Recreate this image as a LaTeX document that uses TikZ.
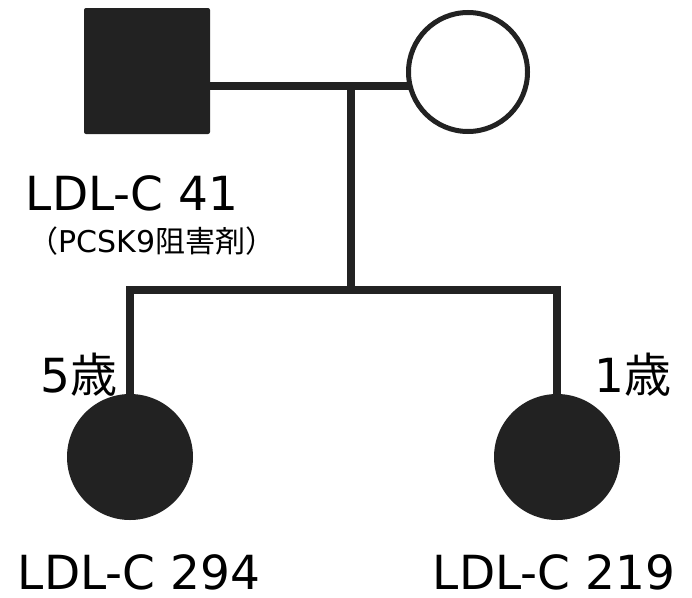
\documentclass[tikz,border=0pt]{standalone}
\usepackage{fontspec}
\setmainfont{DejaVu Sans}
\newfontfamily\cjk{Noto Sans CJK JP}
\definecolor{ink}{HTML}{222222}
\begin{document}
\begin{tikzpicture}[x=1pt,y=1pt,
  conn/.style={draw=ink,line width=7.5pt,line join=miter},
  male/.style={rectangle,fill=ink,minimum size=126pt,inner sep=0,rounded corners=2pt},
  femaleopen/.style={circle,draw=ink,fill=white,line width=5pt,minimum size=119pt,inner sep=0},
  femaleaff/.style={circle,fill=ink,minimum size=126pt,inner sep=0},
  big/.style={inner sep=0,anchor=base,font=\fontsize{47}{52}\selectfont},
  small/.style={inner sep=0,anchor=base,font=\fontsize{30}{34}\selectfont}]
\useasboundingbox (0,0) rectangle (692,-597);
% coordinates
\coordinate (m) at (351,-86);
\coordinate (s) at (351,-290);
% nodes
\node[male] (father) at (147,-71) {};
\node[femaleaff] (c1) at (130,-457) {};
\node[femaleaff] (c2) at (557,-457) {};
% connectors
\draw[conn] (father.east |- m) -- (m) -- (m -| 409,0);
\draw[conn] (m) -- (s);
\draw[conn] (c1.north) -- (c1.north |- s) -- (c2.north |- s) -- (c2.north);
\node[femaleopen] (mother) at (468,-72) {};
% labels
\node[big] (lf) at (132,-210) {LDL-C 41};
\node[small] (lf2) at (152,-252) {{\cjk （}PCSK9{\cjk 阻害剤）}};
\node[big] (a1) at (79,-392) {5{\cjk 歳}};
\node[big] (a2) at (633,-392) {1{\cjk 歳}};
\node[big] (l1) at (139,-589) {LDL-C 294};
\node[big] (l2) at (554,-589) {LDL-C 219};
\end{tikzpicture}
\end{document}
